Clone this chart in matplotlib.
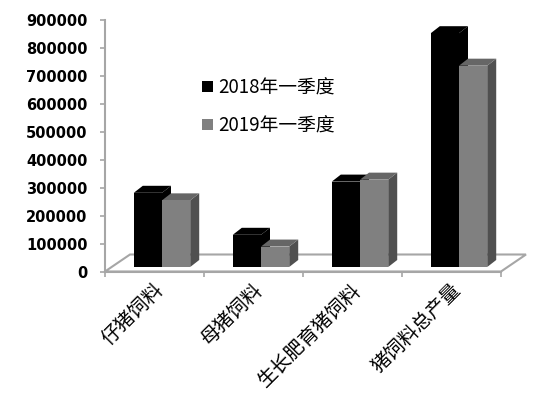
import matplotlib
matplotlib.use("Agg")
import matplotlib.pyplot as plt
import matplotlib.transforms as mtransforms
from matplotlib.patches import Polygon, Patch

plt.rcParams["font.family"] = ["Noto Sans CJK SC", "DejaVu Sans"]

categories = ["仔猪饲料", "母猪饲料", "生长肥育猪饲料", "猪饲料总产量"]
series_names = ["2018年一季度", "2019年一季度"]
q1_2018 = [265000, 115000, 305000, 835000]
q1_2019 = [238000, 73000, 312000, 719000]
y_ticks = list(range(0, 900001, 100000))

# front / top / side colours for each series
front_colors = ["#000000", "#808080"]
top_colors = ["#000000", "#666666"]
side_colors = ["#000000", "#505050"]
grid_color = "#a6a6a6"

fig = plt.figure(figsize=(5.59, 3.98), dpi=100)
ax = fig.add_axes([105 / 559, 1 - 271.5 / 398, 396 / 559, 252 / 398])
ax.set_xlim(-0.5, len(categories) - 0.5)
ax.set_ylim(0, 900000)

# pixel -> data conversion for the fake 3d depth
px_x = ax.bbox.width / (len(categories))
px_y = ax.bbox.height / 900000
bar_dx, bar_dy = 9 / px_x, 7 / px_y
floor_dx, floor_dy = 25 / px_x, 17 / px_y

# floor outline
x0, x1 = -0.5, len(categories) - 0.5
floor = Polygon(
    [(x0, 0), (x1, 0), (x1 + floor_dx, floor_dy), (x0 + floor_dx, floor_dy)],
    closed=True, fill=False, edgecolor=grid_color, lw=1.5, clip_on=False, zorder=1,
)
ax.add_patch(floor)

# bars sit a little behind the front edge of the floor
shift = ax.transData + mtransforms.ScaledTranslation(7.5 / 100, 4.5 / 100, fig.dpi_scale_trans)
w = 0.285
for i in range(len(categories)):
    for j, vals in enumerate([q1_2018, q1_2019]):
        x = i - w + j * w
        v = vals[i]
        z = 2 + i * 3 + j
        side = Polygon(
            [(x + w, 0), (x + w + bar_dx, bar_dy), (x + w + bar_dx, v + bar_dy), (x + w, v)],
            closed=True, facecolor=side_colors[j], edgecolor="none",
            transform=shift, clip_on=False, zorder=z,
        )
        top = Polygon(
            [(x, v), (x + w, v), (x + w + bar_dx, v + bar_dy), (x + bar_dx, v + bar_dy)],
            closed=True, facecolor=top_colors[j], edgecolor="none",
            transform=shift, clip_on=False, zorder=z,
        )
        ax.add_patch(side)
        ax.add_patch(top)
        bars = ax.bar(x, v, width=w, align="edge", color=front_colors[j],
                      zorder=z, clip_on=False)
        for b in bars:
            b.set_transform(shift)

for s in ["top", "right"]:
    ax.spines[s].set_visible(False)
for s in ["left", "bottom"]:
    ax.spines[s].set_color(grid_color)
    ax.spines[s].set_linewidth(1.5)

ax.set_yticks(y_ticks)
ax.set_yticklabels([str(t) for t in y_ticks], fontsize=10.5, fontweight="bold",
                   family="DejaVu Sans")
ax.tick_params(axis="y", direction="out", length=3.5, width=1.2, color=grid_color, pad=9)

ax.set_xticks(range(len(categories)))
ax.set_xticklabels(categories, rotation=45, ha="right", va="center",
                   rotation_mode="anchor", fontsize=14)
ax.tick_params(axis="x", which="major", length=0, pad=11)
label_shift = mtransforms.ScaledTranslation(6 / 100, 0, fig.dpi_scale_trans)
for lab in ax.get_xticklabels():
    lab.set_transform(lab.get_transform() + label_shift)
ax.set_xticks([k - 0.5 for k in range(len(categories) + 1)], minor=True)
ax.tick_params(axis="x", which="minor", direction="out", length=3.5, width=1.2,
               color=grid_color)

handles = [Patch(facecolor=c, edgecolor="none") for c in front_colors]
fig.legend(handles, series_names, loc="upper left",
           bbox_to_anchor=(193 / 559, 1 - 68 / 398), frameon=False,
           fontsize=13.5, handlelength=0.55, handleheight=0.55,
           handletextpad=0.3, labelspacing=0.9, borderpad=0)

fig.savefig("out.png", dpi=100)
